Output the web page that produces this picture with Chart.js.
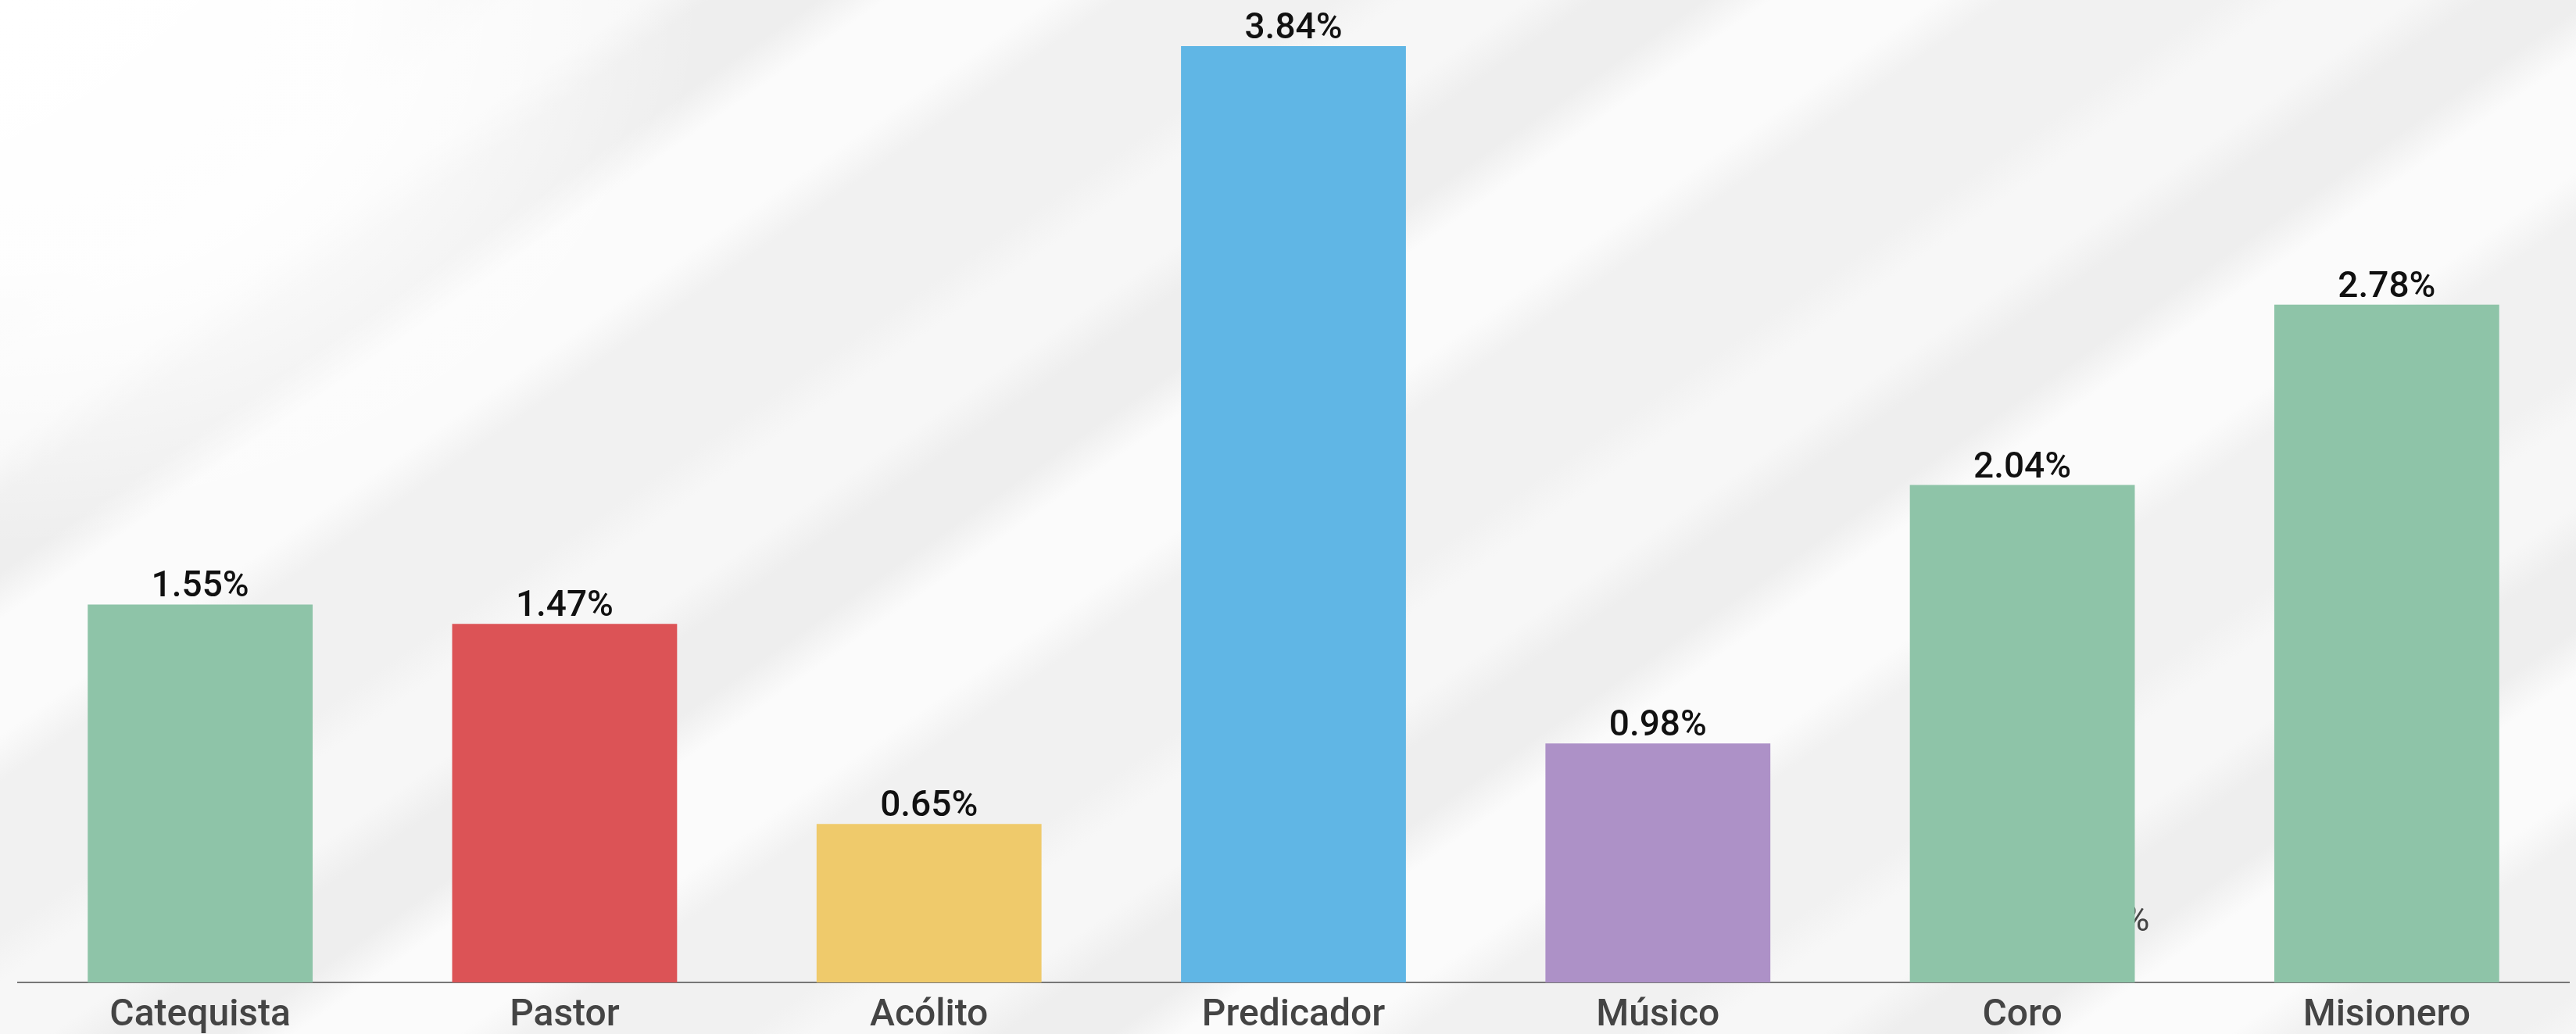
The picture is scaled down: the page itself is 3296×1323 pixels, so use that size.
<!DOCTYPE html>
<html>
<head>
<meta charset="utf-8">
<script src="https://cdn.jsdelivr.net/npm/chart.js@4/dist/chart.umd.min.js"></script>
<style>
  html, body { margin: 0; padding: 0; }
  body {
    width: 3296px; height: 1323px; overflow: hidden;
    background-color: #f4f4f4;
    background-image:
      radial-gradient(ellipse 900px 700px at 0px 0px, rgba(255,255,255,1) 0%, rgba(255,255,255,0.9) 50%, rgba(255,255,255,0) 100%),
      repeating-linear-gradient(145deg, #fbfbfb 0px, #fbfbfb 120px, #f1f1f1 170px, #f1f1f1 330px, #f7f7f7 380px, #f7f7f7 470px, #eeeeee 520px, #eeeeee 600px, #fbfbfb 650px);
  }
  #wrap { position: absolute; left: 0; top: 0; width: 3296px; height: 1323px; }
</style>
</head>
<body>
<div id="wrap"><canvas id="c" width="3296" height="1323"></canvas></div>
<script>
const categories = ['Catequista', 'Pastor', 'Acólito', 'Predicador', 'Músico', 'Coro', 'Misionero'];
const values = [1.55, 1.47, 0.65, 3.84, 0.98, 2.04, 2.78];
const barColors = ['#8ec4a8', '#dc5356', '#efca6b', '#60b6e5', '#ad91c7', '#8ec4a8', '#8ec4a8'];
const yMin = 0;
const yMax = 4;
const hiddenLabel = '0.21%';
const hiddenLabelValue = 0.21;
const hiddenLabelIndex = 5;

const valueLabels = {
  id: 'valueLabels',
  beforeDatasetsDraw(chart) {
    const ctx = chart.ctx;
    const meta = chart.getDatasetMeta(0);
    const bar = meta.data[hiddenLabelIndex];
    const yScale = chart.scales.y;
    ctx.save();
    ctx.font = '400 46px Roboto';
    ctx.fillStyle = '#444444';
    ctx.textAlign = 'right';
    ctx.textBaseline = 'alphabetic';
    ctx.fillText(hiddenLabel, bar.x + bar.width / 2 + 19, yScale.getPixelForValue(hiddenLabelValue));
    ctx.restore();
  },
  afterDatasetsDraw(chart) {
    const ctx = chart.ctx;
    const meta = chart.getDatasetMeta(0);
    ctx.save();
    ctx.font = '500 46px Roboto';
    ctx.fillStyle = '#111111';
    ctx.textAlign = 'center';
    ctx.textBaseline = 'alphabetic';
    meta.data.forEach((bar, i) => {
      ctx.fillText(values[i].toFixed(2) + '%', bar.x, bar.y - 10);
    });
    ctx.restore();
  }
};

new Chart(document.getElementById('c'), {
  type: 'bar',
  data: {
    labels: categories,
    datasets: [{
      data: values,
      backgroundColor: barColors,
      borderWidth: 0,
      categoryPercentage: 0.8,
      barPercentage: 0.7715
    }]
  },
  options: {
    responsive: false,
    devicePixelRatio: 1,
    animation: false,
    layout: { padding: { left: 23, right: 9, top: 9, bottom: 0 } },
    plugins: { legend: { display: false }, tooltip: { enabled: false } },
    scales: {
      y: { display: false, min: yMin, max: yMax },
      x: {
        grid: { display: false, drawTicks: false },
        border: { display: true, color: '#777777', width: 2 },
        ticks: {
          color: '#444444',
          font: { family: 'Roboto', size: 48, weight: '500' },
          padding: 14,
          maxRotation: 0,
          autoSkip: false
        },
        afterFit(scale) { scale.height = 66; }
      }
    }
  },
  plugins: [valueLabels]
});
</script>
</body>
</html>
